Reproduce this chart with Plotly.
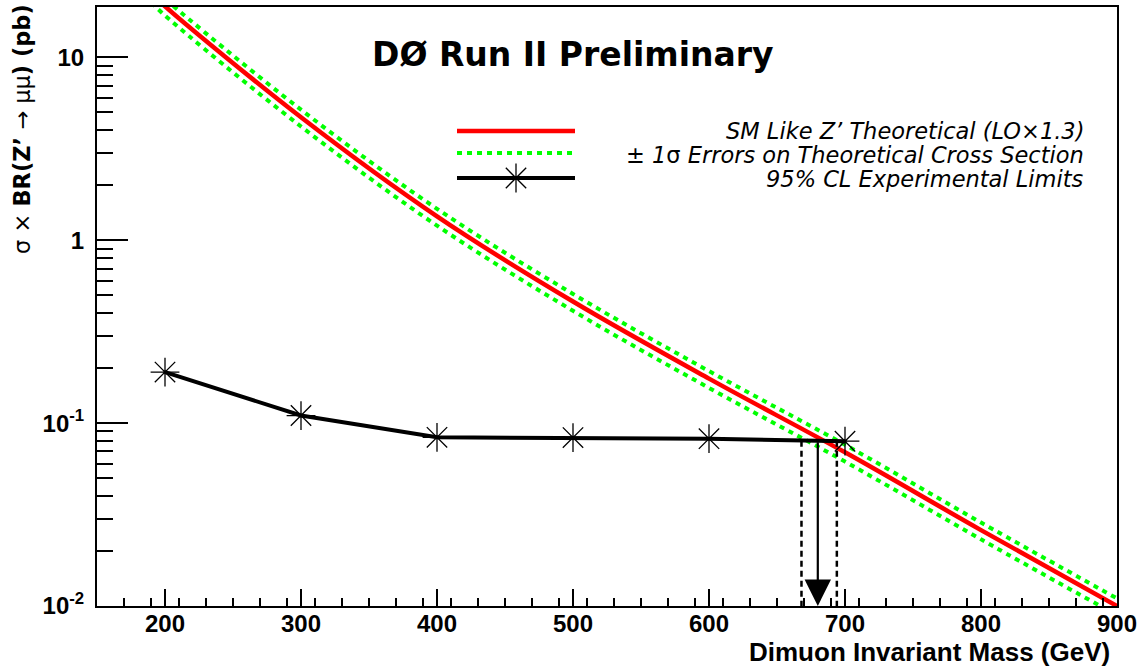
import numpy as np
import plotly.graph_objects as go

# ---------------- data ----------------
mass_theory = [190, 200, 300, 400, 500, 600, 700, 800, 900]
sigma_theory = [22.4, 19.0, 4.70, 1.35, 0.462, 0.175, 0.0692, 0.026, 0.010]
err_up_factor = 1.10
err_down_factor = 0.89

mass_exp = [200, 300, 400, 500, 600, 700]
sigma_exp = [0.190, 0.110, 0.0836, 0.0833, 0.0822, 0.0796]

limit_mass = 680
limit_band = [668, 694]
limit_sigma = 0.080

x_ticks = [200, 300, 400, 500, 600, 700, 800, 900]
y_ticks = [0.01, 0.1, 1, 10]
y_ticktext = ["10<sup>-2</sup>", "10<sup>-1</sup>", "1", "10"]

legend_labels = [
    "<i>SM Like Z’ Theoretical (LO×1.3)</i>",
    "± <i>1</i>σ <i>Errors on Theoretical Cross Section</i>",
    "<i>95% CL Experimental Limits</i>",
]

# ---------------- layout constants ----------------
W, H = 1139, 666
L, R, T, B = 97, 1117, 7, 606
FONT = "Liberation Sans"
WIDE = "DejaVu Sans"

sig_up = [s * err_up_factor for s in sigma_theory]
sig_dn = [s * err_down_factor for s in sigma_theory]

fig = go.Figure()

green = dict(color="#00ff00", width=4, dash="5px,5px", shape="spline")
fig.add_trace(go.Scatter(x=mass_theory, y=sig_up, mode="lines", line=green, showlegend=False))
fig.add_trace(go.Scatter(x=mass_theory, y=sig_dn, mode="lines", line=green, showlegend=False))
fig.add_trace(go.Scatter(x=mass_theory, y=sigma_theory, mode="lines",
                         line=dict(color="#ff0000", width=4.5, shape="spline"), showlegend=False))

# limit dashed lines
for m in limit_band:
    fig.add_trace(go.Scatter(x=[m, m], y=[limit_sigma, 0.01], mode="lines",
                             line=dict(color="black", width=2.5, dash="6px,4px"), showlegend=False))

fig.add_trace(go.Scatter(x=mass_exp, y=sigma_exp, mode="lines+markers",
                         line=dict(color="black", width=4),
                         marker=dict(symbol="asterisk-open", size=24, color="black",
                                     line=dict(color="black", width=1.3)),
                         showlegend=False))

# limit arrow
fig.add_annotation(x=limit_mass, y=np.log10(0.01), ax=limit_mass, ay=np.log10(limit_sigma),
                   xref="x", yref="y", axref="x", ayref="y", text="", showarrow=True,
                   arrowhead=2, arrowsize=2.4, arrowwidth=2.2, arrowcolor="black", standoff=0)

# ---------------- manual legend (pixel overlay axes) ----------------
leg_rows = [131, 153, 178]
leg_x = [457, 575]
fig.add_trace(go.Scatter(x=leg_x, y=[leg_rows[0]] * 2, xaxis="x2", yaxis="y2", mode="lines",
                         line=dict(color="#ff0000", width=4.5), showlegend=False))
fig.add_trace(go.Scatter(x=leg_x, y=[leg_rows[1]] * 2, xaxis="x2", yaxis="y2", mode="lines",
                         line=dict(color="#00ff00", width=4, dash="5px,5px"), showlegend=False))
fig.add_trace(go.Scatter(x=leg_x, y=[leg_rows[2]] * 2, xaxis="x2", yaxis="y2", mode="lines",
                         line=dict(color="black", width=4), showlegend=False))
fig.add_trace(go.Scatter(x=[516], y=[leg_rows[2]], xaxis="x2", yaxis="y2", mode="markers",
                         marker=dict(symbol="asterisk-open", size=24, color="black",
                                     line=dict(color="black", width=1.3)), showlegend=False))
for lab, yy in zip(legend_labels, [131, 155, 179]):
    fig.add_annotation(x=1086, y=yy, xref="x2", yref="y2", text=lab, showarrow=False,
                       xanchor="right", yanchor="middle",
                       font=dict(family=WIDE, size=22.5, color="black"))


def px(x):
    return (x - L) / (R - L)


def py(y):
    return 1 - (y - T) / (B - T)


fig.add_annotation(x=px(573), y=py(54), xref="paper", yref="paper",
                   text="<b>DØ Run II Preliminary</b>", showarrow=False,
                   xanchor="center", yanchor="middle",
                   font=dict(family=WIDE, size=33, color="black"))
fig.add_annotation(x=px(1112), y=py(652), xref="paper", yref="paper",
                   text="<b>Dimuon Invariant Mass (GeV)</b>", showarrow=False,
                   xanchor="right", yanchor="middle",
                   font=dict(family=FONT, size=26, color="black"))
fig.add_annotation(x=px(22), y=py(129), xref="paper", yref="paper",
                   text="σ × <b>BR(Z’</b> → μμ<b>) (pb)</b>", showarrow=False, textangle=-90,
                   xanchor="center", yanchor="middle",
                   font=dict(family=WIDE, size=22.5, color="black"))

tickfont = dict(family=FONT, size=24, color="black", weight="bold")
minor_y = [k * 10.0 ** e for e in range(-2, 2) for k in range(2, 10)]

fig.update_layout(
    width=W, height=H,
    margin=dict(l=L, r=W - R, t=T, b=H - B, pad=0, autoexpand=False),
    paper_bgcolor="white", plot_bgcolor="white",
    xaxis=dict(range=[150, 900], tickmode="array", tickvals=x_ticks, automargin=False,
               ticks="inside", ticklen=17, tickwidth=1.5, tickcolor="black",
               showline=True, linecolor="black", linewidth=2, mirror=True,
               showgrid=False, zeroline=False, tickfont=tickfont, ticklabelstandoff=-5,
               minor=dict(tickmode="linear", tick0=150, dtick=20, ticks="inside",
                          ticklen=8, tickwidth=1.5, tickcolor="black", showgrid=False)),
    yaxis=dict(type="log", range=[-2, 1.275], tickmode="array", tickvals=y_ticks,
               ticktext=y_ticktext, ticks="inside", ticklen=31, tickwidth=1.5,
               tickcolor="black", showline=True, linecolor="black", linewidth=2,
               mirror=True, showgrid=False, zeroline=False, tickfont=tickfont,
               ticklabelstandoff=6, automargin=False,
               minor=dict(tickmode="array", tickvals=minor_y, ticks="inside",
                          ticklen=16, tickwidth=1.5, tickcolor="black", showgrid=False)),
    xaxis2=dict(range=[L, R], overlaying="x", visible=False, fixedrange=True, automargin=False),
    yaxis2=dict(range=[B, T], overlaying="y", visible=False, fixedrange=True, automargin=False),
    showlegend=False,
)

fig.write_html("out.html", config={"displayModeBar": False},
               post_script="document.body.style.margin='0px';document.body.style.padding='0px';")
